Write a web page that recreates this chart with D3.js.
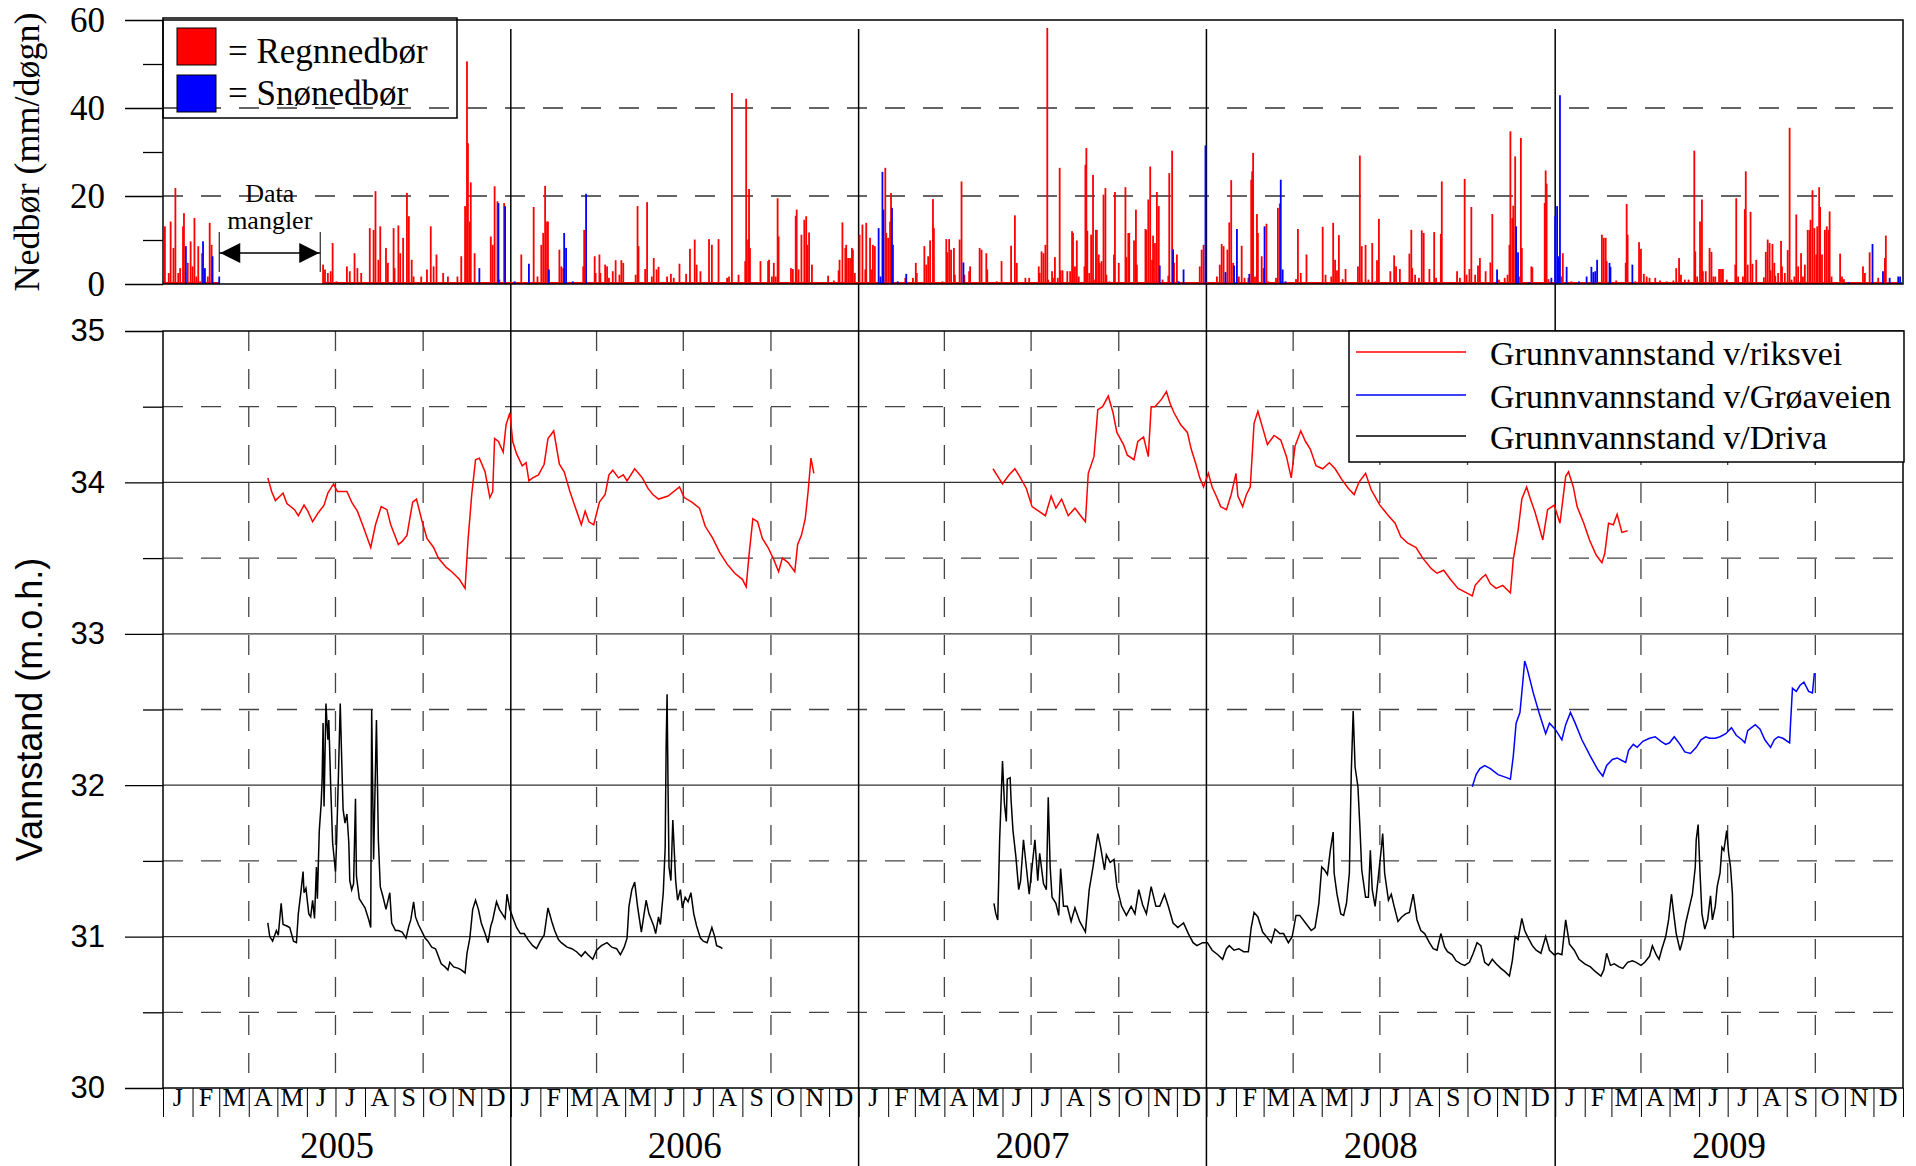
<!DOCTYPE html>
<html>
<head>
<meta charset="utf-8">
<script src="https://cdn.jsdelivr.net/npm/d3@7"></script>
<style>
  body { margin: 0; background: #fff; }
  svg { display: block; }
</style>
</head>
<body>
<script>
// Daily precipitation (day number counted from 1 Jan 2005, mm/døgn)
const rain = [[2,13.1],[6,2.5],[8,14.2],[11,8.2],[13,21.8],[16,2.5],[18,3.6],[21,13.1],[22,16.1],[26,4.8],[29,9.7],[31,4.0],[33,15.0],[35,1.7],[37,8.6],[39,0.6],[41,7.0],[47,1.7],[49,13.9],[51,8.9],
[168,4.4],[170,3.3],[173,2.5],[176,2.9],[178,9.3],[182,0.6],[193,4.0],[196,2.9],[201,7.0],[204,3.6],[208,2.5],[217,12.7],[221,12.3],[223,21.1],[226,5.5],[228,13.1],[234,8.2],[236,4.8],[242,12.7],[243,3.6],[247,13.3],[249,7.0],[252,10.5],[256,20.7],[258,15.4],[261,5.5],[263,1.7],[271,1.7],[277,3.3],[281,13.1],[284,4.0],[287,6.7],[294,2.5],[299,1.7],[309,1.7],[313,6.3],[317,17.7],[319,50.6],[320,32.0],[322,14.2],[323,23.1],[327,7.0],[344,10.8],[346,8.9],[348,22.2],[351,18.8],[353,1.0],[358,18.4],
[376,6.7],[389,17.5],[393,1.7],[397,8.9],[399,11.6],[401,22.3],[403,14.2],[404,14.2],[416,7.8],[418,4.0],[420,3.6],[441,4.0],[442,12.3],[453,6.3],[454,2.5],[458,6.7],[459,2.5],[464,4.4],[466,4.0],[468,1.4],[472,2.9],[475,5.4],[479,2.1],[481,5.4],[483,4.8],[496,2.1],[498,17.7],[499,8.6],[506,3.4],[508,18.6],[513,1.7],[515,5.9],[518,3.3],[520,3.9],[529,1.7],[533,2.3],[536,1.4],[542,4.6],[549,2.3],[553,8.0],[558,10.1],[560,4.4],[564,2.9],[573,10.2],[576,8.9],[583,10.2],[592,1.4],[594,1.7],[597,43.4],[604,2.1],[611,5.2],[612,42.1],[614,10.1],[615,21.6],[616,8.2],[627,5.2],[635,5.2],[636,5.5],[639,1.7],[641,4.8],[643,1.7],[645,19.5],[646,10.8],[659,3.6],[661,3.4],[664,15.5],[665,16.9],[667,3.3],[670,11.2],[673,14.6],[675,15.4],[676,8.9],[678,11.7],[681,4.4],[698,1.9],[704,0.8],[709,3.1],[710,5.5],[713,14.0],[716,8.2],[717,8.9],[719,5.9],[721,5.9],[723,8.2],[724,7.8],[726,2.5],
[731,11.2],[734,13.5],[737,3.3],[738,13.9],[742,10.5],[744,3.3],[745,8.9],[747,8.6],[758,26.4],[759,11.6],[761,10.5],[763,14.2],[764,20.7],[779,1.4],[787,1.4],[790,4.8],[791,2.5],[799,8.6],[801,4.4],[803,6.3],[805,9.9],[808,19.3],[809,12.7],[818,0.6],[822,10.2],[823,7.2],[825,10.2],[827,7.8],[830,8.2],[831,2.1],[836,10.1],[838,23.3],[841,2.1],[846,2.9],[847,4.0],[857,8.2],[859,7.8],[864,7.0],[865,3.3],[875,0.6],[880,5.2],[890,8.7],[894,15.6],[896,4.8],[905,1.4],[909,1.4],[919,4.0],[920,2.5],[922,7.4],[924,7.0],[926,8.9],[928,58.2],[929,1.0],[933,2.9],[934,1.4],[936,6.1],[939,1.4],[941,26.4],[942,3.1],[944,3.1],[949,2.9],[952,2.9],[954,12.0],[955,11.6],[957,4.0],[959,9.9],[961,1.7],[967,4.0],[968,27.1],[969,30.9],[970,12.1],[972,2.5],[974,11.2],[976,24.8],[977,1.0],[979,12.3],[980,12.3],[982,6.7],[983,4.8],[985,5.2],[987,20.3],[989,21.8],[990,2.1],[993,0.6],[998,6.7],[999,20.9],[1003,4.8],[1010,22.0],[1011,6.1],[1013,11.6],[1014,11.6],[1019,9.9],[1021,16.9],[1022,4.4],[1031,12.5],[1032,12.3],[1034,19.2],[1036,26.7],[1038,5.5],[1039,11.0],[1041,9.3],[1043,20.9],[1045,17.7],[1049,1.0],[1055,1.9],[1056,25.2],[1059,30.3],[1061,4.8],[1064,6.7],[1088,4.0],[1090,7.8],[1092,8.9],
[1106,1.7],[1109,4.4],[1111,9.1],[1113,8.6],[1117,7.8],[1119,14.0],[1121,23.6],[1123,4.8],[1129,1.7],[1132,8.7],[1135,1.4],[1139,1.4],[1142,23.7],[1143,25.6],[1144,29.8],[1146,1.7],[1148,15.9],[1149,11.6],[1153,6.3],[1155,3.6],[1158,13.7],[1160,0.6],[1168,1.4],[1170,17.3],[1172,18.3],[1189,1.1],[1191,12.5],[1194,2.5],[1200,6.7],[1217,13.0],[1220,2.1],[1226,1.7],[1228,13.9],[1230,5.5],[1232,3.1],[1234,11.1],[1238,1.1],[1241,3.4],[1254,4.0],[1256,29.2],[1258,8.6],[1262,8.9],[1265,1.0],[1269,9.3],[1272,0.6],[1274,5.4],[1276,14.8],[1288,2.9],[1292,6.5],[1294,4.0],[1298,3.4],[1308,6.9],[1310,12.3],[1311,3.6],[1314,2.1],[1318,1.4],[1321,12.2],[1323,11.6],[1329,3.4],[1334,11.8],[1336,1.4],[1341,11.4],[1342,23.3],[1358,2.9],[1361,1.4],[1366,23.9],[1368,2.1],[1371,3.4],[1373,17.5],[1377,2.1],[1380,4.2],[1382,5.9],[1388,2.9],[1393,4.9],[1395,15.9],[1402,1.0],[1408,1.4],[1411,2.1],[1413,8.9],[1414,34.7],[1416,15.0],[1417,17.8],[1419,29.0],[1423,1.7],[1425,33.2],[1426,8.2],[1436,4.0],[1437,3.8],[1450,18.4],[1451,25.8],[1452,22.8],[1454,1.1],
[1468,1.7],[1469,7.0],[1478,0.6],[1510,11.2],[1512,10.5],[1514,10.5],[1515,5.2],[1525,0.8],[1529,0.4],[1535,4.8],[1536,18.2],[1537,11.2],[1545,0.6],[1549,9.5],[1551,8.0],[1554,2.3],[1557,1.7],[1560,1.4],[1566,1.4],[1571,0.8],[1578,0.6],[1585,0.8],[1588,3.6],[1591,5.9],[1593,2.1],[1597,1.0],[1601,1.0],[1607,30.3],[1608,7.4],[1610,1.7],[1613,14.2],[1615,19.2],[1616,2.9],[1619,2.9],[1623,8.2],[1625,7.3],[1627,1.7],[1629,1.7],[1633,3.4],[1635,3.4],[1637,3.4],[1641,1.0],[1650,4.4],[1651,19.5],[1653,1.7],[1658,1.7],[1660,17.0],[1661,25.6],[1663,4.4],[1666,16.4],[1668,4.6],[1672,5.5],[1680,1.5],[1682,7.3],[1684,10.1],[1686,9.3],[1687,3.1],[1689,9.1],[1691,4.8],[1692,1.9],[1695,2.5],[1698,9.8],[1699,4.0],[1702,2.5],[1705,7.7],[1707,35.5],[1709,1.0],[1712,1.7],[1714,15.8],[1716,4.0],[1719,7.0],[1721,1.7],[1723,4.4],[1726,12.3],[1728,12.3],[1729,14.6],[1731,21.3],[1733,12.7],[1735,6.7],[1736,13.1],[1738,22.0],[1739,17.5],[1741,6.7],[1744,12.3],[1746,13.1],[1748,12.3],[1749,16.5],[1751,1.7],[1760,6.9],[1762,1.7],[1764,1.1],[1781,0.4],[1784,4.0],[1786,2.5],[1791,7.2],[1800,1.4],[1807,5.9],[1808,11.0]];

const snow = [[24,8.6],[42,9.7],[44,3.6],[52,6.3],[59,1.7],[332,3.6],[352,18.4],[359,17.7],[369,0.6],[384,4.6],[405,3.3],[421,11.6],[423,8.2],[430,0.6],[444,20.5],[751,12.7],[753,1.7],[755,25.5],[756,16.9],[765,17.3],[766,8.9],[771,0.6],[780,2.3],[840,4.9],[1046,4.2],[1060,7.9],[1066,0.6],[1071,3.3],[1094,31.5],[1115,2.7],[1124,4.2],[1127,12.5],[1140,2.3],[1156,13.1],[1173,23.7],[1175,3.3],[1178,0.6],[1400,3.3],[1420,13.1],[1422,7.2],[1434,0.4],[1457,1.4],[1461,15.4],[1463,17.7],[1464,6.3],[1465,5.9],[1466,42.9],[1473,3.9],[1486,0.6],[1494,1.7],[1499,3.9],[1501,2.7],[1503,2.9],[1505,5.5],[1518,4.8],[1519,3.9],[1542,4.4],[1769,0.4],[1794,9.1],[1805,2.9],[1812,1.4],[1821,1.7],[1823,1.7]];

// Periods with a precipitation record (first day, last day)
const rainRecord = [[0,59],[168,1825]];

// Groundwater levels (day number, m.o.h.)
const riksvei = [[110,34.03],[114,33.94],[118,33.88],[126,33.93],[130,33.86],[138,33.82],[142,33.78],[148,33.85],[152,33.81],[157,33.74],[163,33.80],[169,33.85],[173,33.93],[179,33.99],[183,33.94],[193,33.94],[198,33.87],[204,33.81],[210,33.71],[218,33.57],[223,33.72],[229,33.84],[235,33.82],[239,33.72],[247,33.59],[251,33.61],[256,33.65],[262,33.87],[266,33.89],[272,33.74],[277,33.63],[284,33.57],[289,33.50],[297,33.44],[303,33.41],[311,33.36],[317,33.30],[320,33.61],[324,33.92],[328,34.15],[332,34.16],[338,34.07],[343,33.90],[346,33.94],[348,34.29],[352,34.27],[357,34.20],[360,34.38],[364,34.46],[367,34.27],[371,34.19],[377,34.11],[381,34.13],[384,34.01],[388,34.03],[394,34.05],[400,34.12],[404,34.29],[410,34.34],[416,34.12],[421,34.07],[427,33.94],[433,33.83],[439,33.72],[443,33.81],[447,33.74],[452,33.72],[458,33.87],[464,33.92],[468,34.05],[472,34.08],[478,34.03],[483,34.05],[487,34.01],[495,34.09],[503,34.03],[509,33.96],[514,33.92],[520,33.89],[530,33.91],[542,33.97],[547,33.90],[555,33.87],[563,33.83],[569,33.71],[577,33.63],[584,33.54],[592,33.46],[600,33.40],[608,33.36],[612,33.31],[615,33.52],[619,33.76],[624,33.74],[629,33.63],[635,33.57],[641,33.49],[646,33.41],[650,33.50],[656,33.47],[663,33.41],[666,33.59],[670,33.65],[674,33.76],[677,33.94],[680,34.16],[683,34.06],
null,
[871,34.09],[877,34.03],[881,33.99],[888,34.05],[894,34.09],[899,34.04],[906,33.96],[912,33.84],[919,33.81],[926,33.78],[932,33.91],[937,33.83],[943,33.89],[950,33.78],[957,33.83],[963,33.78],[968,33.74],[971,34.06],[977,34.17],[981,34.48],[986,34.50],[992,34.57],[997,34.46],[1001,34.33],[1008,34.25],[1012,34.18],[1019,34.15],[1023,34.27],[1029,34.30],[1034,34.17],[1037,34.50],[1041,34.50],[1048,34.55],[1053,34.60],[1057,34.52],[1061,34.46],[1068,34.38],[1075,34.33],[1079,34.22],[1084,34.12],[1088,34.03],[1092,33.97],[1097,34.06],[1101,33.97],[1106,33.90],[1110,33.84],[1116,33.82],[1121,33.92],[1126,34.06],[1128,33.91],[1133,33.84],[1137,33.92],[1141,33.97],[1145,34.39],[1149,34.47],[1154,34.36],[1159,34.25],[1166,34.31],[1173,34.28],[1179,34.17],[1184,34.03],[1188,34.24],[1194,34.34],[1199,34.27],[1204,34.22],[1210,34.11],[1217,34.09],[1224,34.13],[1230,34.09],[1237,34.02],[1244,33.96],[1250,33.92],[1255,34.00],[1262,34.06],[1268,33.95],[1277,33.85],[1286,33.78],[1293,33.73],[1299,33.64],[1306,33.60],[1315,33.57],[1322,33.50],[1331,33.43],[1337,33.40],[1344,33.42],[1351,33.36],[1359,33.30],[1368,33.27],[1374,33.25],[1377,33.32],[1384,33.37],[1388,33.39],[1393,33.33],[1399,33.30],[1406,33.32],[1414,33.27],[1417,33.49],[1422,33.68],[1426,33.89],[1431,33.97],[1435,33.89],[1440,33.80],[1444,33.71],[1448,33.62],[1453,33.82],[1460,33.85],[1466,33.73],[1472,34.04],[1475,34.07],[1480,33.97],[1484,33.84],[1491,33.73],[1497,33.62],[1504,33.52],[1510,33.47],[1513,33.53],[1517,33.73],[1522,33.72],[1526,33.79],[1531,33.67],[1537,33.68]];

const groaveien = [[1374,31.99],[1378,32.07],[1382,32.11],[1387,32.13],[1393,32.11],[1401,32.07],[1410,32.05],[1414,32.04],[1417,32.19],[1420,32.41],[1424,32.48],[1427,32.68],[1429,32.82],[1432,32.76],[1438,32.61],[1444,32.48],[1451,32.34],[1455,32.41],[1461,32.37],[1468,32.30],[1472,32.40],[1477,32.48],[1482,32.41],[1489,32.30],[1498,32.19],[1506,32.10],[1511,32.06],[1515,32.13],[1521,32.17],[1526,32.18],[1532,32.16],[1535,32.15],[1538,32.23],[1543,32.27],[1547,32.25],[1553,32.29],[1560,32.31],[1566,32.32],[1572,32.29],[1577,32.27],[1581,32.28],[1586,32.32],[1592,32.27],[1597,32.22],[1603,32.21],[1609,32.25],[1614,32.30],[1619,32.32],[1623,32.31],[1629,32.31],[1634,32.32],[1640,32.34],[1646,32.38],[1651,32.33],[1657,32.30],[1660,32.28],[1663,32.36],[1667,32.38],[1671,32.40],[1676,32.37],[1681,32.30],[1687,32.25],[1691,32.30],[1695,32.32],[1700,32.31],[1707,32.28],[1708,32.41],[1710,32.64],[1714,32.62],[1718,32.66],[1722,32.68],[1727,32.62],[1731,32.61],[1733,32.74]];

const driva = [[110,31.09],[112,31.00],[115,30.97],[119,31.04],[121,31.01],[124,31.22],[126,31.08],[130,31.07],[133,31.06],[137,30.97],[140,30.96],[142,31.15],[145,31.31],[147,31.43],[148,31.29],[150,31.32],[153,31.15],[155,31.13],[157,31.24],[159,31.12],[161,31.46],[162,31.25],[164,31.70],[166,31.88],[167,32.04],[168,32.41],[169,31.86],[171,32.54],[173,32.30],[174,32.43],[176,31.99],[178,31.62],[181,31.43],[182,31.59],[184,32.04],[186,32.54],[188,32.06],[189,31.84],[191,31.75],[193,31.81],[195,31.62],[196,31.37],[198,31.31],[200,31.35],[202,31.91],[203,31.40],[206,31.25],[209,31.22],[212,31.19],[216,31.11],[218,31.06],[219,32.50],[221,31.51],[224,32.43],[226,31.64],[228,31.33],[231,31.26],[234,31.18],[238,31.29],[240,31.09],[244,31.04],[247,31.04],[251,31.03],[255,30.99],[258,31.07],[260,31.11],[263,31.23],[265,31.13],[268,31.08],[272,31.03],[275,30.99],[278,30.97],[282,30.93],[286,30.92],[289,30.87],[292,30.82],[296,30.80],[299,30.78],[301,30.83],[305,30.80],[310,30.79],[313,30.78],[317,30.76],[319,30.89],[322,30.99],[325,31.18],[328,31.24],[331,31.18],[334,31.09],[338,31.02],[341,30.96],[344,31.07],[346,31.11],[350,31.23],[353,31.18],[357,31.14],[359,31.12],[361,31.28],[364,31.18],[368,31.11],[371,31.06],[375,31.02],[379,31.02],[383,30.98],[388,30.94],[392,30.92],[396,30.97],[400,31.01],[404,31.19],[408,31.10],[411,31.04],[415,30.98],[418,30.96],[424,30.93],[429,30.92],[434,30.90],[439,30.87],[443,30.90],[446,30.88],[451,30.85],[455,30.91],[460,30.94],[466,30.96],[471,30.93],[476,30.92],[480,30.88],[484,30.93],[487,30.99],[489,31.20],[492,31.31],[495,31.36],[498,31.20],[502,31.03],[507,31.24],[510,31.15],[515,31.07],[517,31.02],[520,31.13],[522,31.08],[525,31.29],[527,31.59],[528,32.26],[529,32.60],[530,31.99],[531,31.46],[533,31.37],[535,31.77],[536,31.64],[538,31.37],[540,31.24],[543,31.31],[545,31.19],[548,31.26],[551,31.23],[554,31.29],[557,31.15],[560,31.07],[564,30.99],[567,30.97],[571,30.96],[576,31.06],[579,31.00],[581,30.94],[585,30.93],[587,30.92],
null,
[872,31.22],[874,31.15],[876,31.11],[878,31.64],[881,32.16],[883,31.88],[885,31.76],[886,32.04],[889,32.05],[890,31.90],[892,31.70],[895,31.53],[898,31.31],[900,31.37],[903,31.64],[906,31.46],[909,31.28],[912,31.46],[915,31.64],[918,31.37],[920,31.55],[924,31.35],[927,31.31],[929,31.92],[931,31.46],[933,31.26],[937,31.22],[940,31.14],[942,31.45],[945,31.20],[949,31.20],[953,31.10],[957,31.19],[962,31.10],[968,31.03],[972,31.31],[976,31.46],[981,31.68],[984,31.59],[988,31.44],[990,31.54],[994,31.49],[998,31.51],[1001,31.33],[1006,31.20],[1011,31.14],[1016,31.20],[1020,31.15],[1024,31.31],[1028,31.21],[1032,31.15],[1037,31.33],[1042,31.20],[1046,31.20],[1051,31.28],[1055,31.20],[1060,31.09],[1065,31.06],[1071,31.09],[1076,31.02],[1081,30.96],[1085,30.94],[1091,30.96],[1096,30.96],[1101,30.91],[1107,30.88],[1112,30.85],[1116,30.92],[1119,30.94],[1124,30.91],[1129,30.92],[1134,30.90],[1139,30.90],[1142,31.06],[1145,31.16],[1149,31.13],[1154,31.03],[1158,31.00],[1163,30.96],[1167,31.05],[1172,31.02],[1176,31.02],[1181,30.96],[1185,31.00],[1189,31.14],[1193,31.14],[1199,31.09],[1205,31.04],[1209,31.06],[1213,31.22],[1216,31.46],[1219,31.44],[1222,31.41],[1225,31.57],[1228,31.69],[1229,31.42],[1232,31.28],[1236,31.15],[1239,31.14],[1242,31.22],[1245,31.42],[1247,32.08],[1249,32.49],[1251,32.12],[1254,31.99],[1256,31.73],[1258,31.44],[1262,31.26],[1265,31.26],[1267,31.57],[1269,31.31],[1272,31.20],[1275,31.37],[1278,31.55],[1280,31.68],[1282,31.42],[1286,31.24],[1289,31.28],[1292,31.20],[1296,31.10],[1300,31.13],[1304,31.15],[1308,31.16],[1312,31.28],[1316,31.11],[1320,31.04],[1324,31.02],[1329,30.96],[1333,30.92],[1337,30.91],[1341,31.02],[1345,30.93],[1348,30.90],[1353,30.88],[1357,30.84],[1362,30.82],[1366,30.81],[1371,30.83],[1375,30.89],[1379,30.96],[1383,30.94],[1387,30.83],[1391,30.81],[1395,30.85],[1399,30.82],[1404,30.79],[1408,30.77],[1413,30.74],[1416,30.84],[1419,31.00],[1422,30.98],[1426,31.12],[1429,31.04],[1432,31.00],[1437,30.94],[1441,30.91],[1446,30.89],[1451,31.00],[1455,30.91],[1460,30.88],[1464,30.89],[1468,30.88],[1472,31.11],[1476,30.95],[1481,30.91],[1486,30.85],[1492,30.82],[1498,30.80],[1503,30.77],[1509,30.74],[1512,30.78],[1515,30.89],[1519,30.81],[1523,30.82],[1528,30.80],[1532,30.79],[1537,30.83],[1542,30.84],[1546,30.83],[1551,30.81],[1555,30.83],[1560,30.87],[1563,30.94],[1567,30.88],[1570,30.85],[1573,30.92],[1577,31.00],[1580,31.11],[1583,31.28],[1585,31.17],[1588,31.02],[1592,30.91],[1595,30.98],[1598,31.09],[1602,31.20],[1605,31.28],[1608,31.46],[1609,31.64],[1611,31.74],[1613,31.42],[1615,31.15],[1618,31.05],[1621,31.11],[1624,31.27],[1626,31.11],[1629,31.20],[1631,31.33],[1634,31.42],[1636,31.59],[1638,31.57],[1641,31.70],[1643,31.55],[1645,31.46],[1647,31.28],[1648,30.99]];

// Axis labels and ticks
const monthLetters = ["J","F","M","A","M","J","J","A","S","O","N","D"];
const years = [2005, 2006, 2007, 2008, 2009];
const rainTicks = [0, 20, 40, 60];
const rainMinorTicks = [10, 30, 50];
const levelTicks = [30, 31, 32, 33, 34, 35];
const levelHalfTicks = [30.5, 31.5, 32.5, 33.5, 34.5];
const missingSpan = [59, 165]; // "Data mangler" arrow, day numbers

const W = 1916, H = 1166;
const L = 163, R = 1903;
const serif = "'Liberation Serif', 'Times New Roman', serif";
const sans = "'Liberation Sans', Arial, sans-serif";
const dash = "20,18";

const t0 = Date.UTC(2005, 0, 1);
const dayDate = d => new Date(t0 + d * 86400000);

const x = d3.scaleUtc().domain([new Date(t0), new Date(Date.UTC(2010, 0, 1))]).range([L, R]);
const xd = d => x(dayDate(d));
const yP = d3.scaleLinear().domain([0, 60]).range([284, 20]);
const yW = d3.scaleLinear().domain([30, 35]).range([1088, 331]);

const svg = d3.select("body").append("svg").attr("width", W).attr("height", H);

// ---------- grid: precipitation panel ----------
const gTop = svg.append("g");
gTop.selectAll("line.hd").data([20, 40]).join("line")
  .attr("x1", L).attr("x2", R).attr("y1", d => yP(d)).attr("y2", d => yP(d))
  .attr("stroke", "#333").attr("stroke-width", 1.3).attr("stroke-dasharray", dash);

// ---------- grid: water level panel ----------
const gBot = svg.append("g");
gBot.selectAll("line.hs").data([31, 32, 33, 34]).join("line")
  .attr("x1", L).attr("x2", R).attr("y1", d => yW(d)).attr("y2", d => yW(d))
  .attr("stroke", "#333").attr("stroke-width", 1.2);
gBot.selectAll("line.hh").data(levelHalfTicks).join("line")
  .attr("x1", L).attr("x2", R).attr("y1", d => yW(d)).attr("y2", d => yW(d))
  .attr("stroke", "#444").attr("stroke-width", 1.3).attr("stroke-dasharray", dash);

const quarters = d3.utcMonth.range(new Date(t0), new Date(Date.UTC(2010, 0, 1)), 3)
  .filter(d => d.getUTCMonth() !== 0);
gBot.selectAll("line.vq").data(quarters).join("line")
  .attr("x1", d => x(d)).attr("x2", d => x(d)).attr("y1", 331).attr("y2", 1088)
  .attr("stroke", "#444").attr("stroke-width", 1.3).attr("stroke-dasharray", dash);

// ---------- year dividers ----------
const yearStarts = years.slice(1).map(y => new Date(Date.UTC(y, 0, 1)));
svg.selectAll("line.yr").data(yearStarts).join("line")
  .attr("x1", d => x(d)).attr("x2", d => x(d)).attr("y1", 29).attr("y2", H)
  .attr("stroke", "#000").attr("stroke-width", 1.5);

// ---------- precipitation bars ----------
svg.append("g").selectAll("line").data(rainRecord).join("line")
  .attr("x1", d => xd(d[0])).attr("x2", d => xd(d[1]))
  .attr("y1", yP(0) - 1).attr("y2", yP(0) - 1)
  .attr("stroke", "#ff0000").attr("stroke-width", 2);

svg.append("g").selectAll("rect").data(rain).join("rect")
  .attr("x", d => xd(d[0]) - 0.9).attr("width", 1.8)
  .attr("y", d => yP(d[1])).attr("height", d => yP(0) - yP(d[1]))
  .attr("fill", "#ff0000");
svg.append("g").selectAll("rect").data(snow).join("rect")
  .attr("x", d => xd(d[0]) - 0.9).attr("width", 1.8)
  .attr("y", d => yP(d[1])).attr("height", d => yP(0) - yP(d[1]))
  .attr("fill", "#0000ff");

// ---------- water level lines ----------
const line = d3.line().defined(d => d !== null).x(d => xd(d[0])).y(d => yW(d[1]));
svg.append("path").datum(riksvei).attr("d", line)
  .attr("fill", "none").attr("stroke", "#ff0000").attr("stroke-width", 1.5);
svg.append("path").datum(groaveien).attr("d", line)
  .attr("fill", "none").attr("stroke", "#0000ff").attr("stroke-width", 1.5);
svg.append("path").datum(driva).attr("d", line)
  .attr("fill", "none").attr("stroke", "#000").attr("stroke-width", 1.5);

// ---------- frames ----------
svg.append("rect").attr("x", L).attr("y", yP(60)).attr("width", R - L).attr("height", yP(0) - yP(60))
  .attr("fill", "none").attr("stroke", "#000").attr("stroke-width", 1.5);
svg.append("rect").attr("x", L).attr("y", yW(35)).attr("width", R - L).attr("height", yW(30) - yW(35))
  .attr("fill", "none").attr("stroke", "#000").attr("stroke-width", 1.5);

// ---------- y axes ----------
function styleAxis(g, font, size) {
  g.select(".domain").remove();
  g.selectAll(".tick line").attr("stroke", "#000").attr("stroke-width", 1.3);
  g.selectAll(".tick text").attr("font-family", font).attr("font-size", size).attr("fill", "#000");
}
svg.append("g").attr("transform", `translate(${L},0)`)
  .call(d3.axisLeft(yP).tickValues(rainTicks).tickSize(38).tickPadding(20))
  .call(g => styleAxis(g, serif, 35));
svg.append("g").attr("transform", `translate(${L},0)`)
  .call(d3.axisLeft(yP).tickValues(rainMinorTicks).tickSize(20).tickFormat(""))
  .call(g => styleAxis(g, serif, 35));
svg.append("g").attr("transform", `translate(${L},0)`)
  .call(d3.axisLeft(yW).tickValues(levelTicks).tickSize(38).tickPadding(20).tickFormat(d3.format("d")))
  .call(g => styleAxis(g, sans, 31));
svg.append("g").attr("transform", `translate(${L},0)`)
  .call(d3.axisLeft(yW).tickValues(levelHalfTicks).tickSize(20).tickFormat(""))
  .call(g => styleAxis(g, sans, 31));

// ---------- x axis: months and years ----------
const months = d3.utcMonth.range(new Date(t0), new Date(Date.UTC(2010, 0, 1)));
svg.append("g").attr("transform", `translate(0,${yW(30)})`)
  .call(d3.axisBottom(x).tickValues(months.concat([new Date(Date.UTC(2010, 0, 1))])).tickSize(29).tickFormat(""))
  .call(g => { g.select(".domain").remove(); g.selectAll(".tick line").attr("stroke", "#000").attr("stroke-width", 1); });

svg.append("g").selectAll("text").data(months).join("text")
  .attr("x", d => (x(d) + x(d3.utcMonth.offset(d, 1))) / 2)
  .attr("y", 1106)
  .attr("text-anchor", "middle")
  .attr("font-family", serif).attr("font-size", 26)
  .text(d => monthLetters[d.getUTCMonth()]);

svg.append("g").selectAll("text").data(years).join("text")
  .attr("x", y => (x(new Date(Date.UTC(y, 0, 1))) + x(new Date(Date.UTC(y + 1, 0, 1)))) / 2)
  .attr("y", 1158)
  .attr("text-anchor", "middle")
  .attr("font-family", serif).attr("font-size", 37)
  .text(y => y);

// ---------- axis titles ----------
svg.append("text")
  .attr("transform", `translate(39,${(yP(0) + yP(60)) / 2}) rotate(-90)`)
  .attr("text-anchor", "middle").attr("font-family", serif).attr("font-size", 36)
  .text("Nedbør (mm/døgn)");
svg.append("text")
  .attr("transform", `translate(42,${(yW(30) + yW(35)) / 2}) rotate(-90)`)
  .attr("text-anchor", "middle").attr("font-family", sans).attr("font-size", 36)
  .text("Vannstand (m.o.h.)");

// ---------- precipitation legend ----------
const lg1 = svg.append("g");
lg1.append("rect").attr("x", 163).attr("y", 18).attr("width", 294).attr("height", 100)
  .attr("fill", "none").attr("stroke", "#000").attr("stroke-width", 1.5);
const lgItems = [
  { c: "#ff0000", t: "= Regnnedbør", y: 28, base: 63 },
  { c: "#0000ff", t: "= Snønedbør", y: 75, base: 105 }
];
lg1.selectAll("rect.sw").data(lgItems).join("rect")
  .attr("x", 177).attr("y", d => d.y).attr("width", 39).attr("height", 37)
  .attr("fill", d => d.c).attr("stroke", "#000").attr("stroke-width", 1);
lg1.selectAll("text").data(lgItems).join("text")
  .attr("x", 228).attr("y", d => d.base)
  .attr("font-family", serif).attr("font-size", 35)
  .text(d => d.t);

// ---------- missing-data annotation ----------
const ann = svg.append("g");
const ax1 = xd(missingSpan[0]), ax2 = xd(missingSpan[1]);
ann.append("text").attr("x", (ax1 + ax2) / 2).attr("y", 202).attr("text-anchor", "middle")
  .attr("font-family", serif).attr("font-size", 26).text("Data");
ann.append("text").attr("x", (ax1 + ax2) / 2).attr("y", 229).attr("text-anchor", "middle")
  .attr("font-family", serif).attr("font-size", 26).text("mangler");
ann.append("line").attr("x1", ax1).attr("x2", ax2).attr("y1", 253).attr("y2", 253)
  .attr("stroke", "#000").attr("stroke-width", 1.5);
ann.selectAll("line.bar").data([ax1, ax2]).join("line")
  .attr("x1", d => d).attr("x2", d => d).attr("y1", 232).attr("y2", 272)
  .attr("stroke", "#000").attr("stroke-width", 1);
ann.append("path").attr("d", `M${ax1 + 1},253 L${ax1 + 21},243 L${ax1 + 21},263 Z`).attr("fill", "#000");
ann.append("path").attr("d", `M${ax2 - 1},253 L${ax2 - 21},243 L${ax2 - 21},263 Z`).attr("fill", "#000");

// ---------- water level legend ----------
const lg2 = svg.append("g");
lg2.append("rect").attr("x", 1349).attr("y", 331).attr("width", 555).attr("height", 131)
  .attr("fill", "#fff").attr("stroke", "#000").attr("stroke-width", 1.5);
const lg2Items = [
  { c: "#ff0000", t: "Grunnvannstand v/riksvei", y: 352 },
  { c: "#0000ff", t: "Grunnvannstand v/Grøaveien", y: 395 },
  { c: "#000000", t: "Grunnvannstand v/Driva", y: 436 }
];
lg2.selectAll("line").data(lg2Items).join("line")
  .attr("x1", 1356).attr("x2", 1466).attr("y1", d => d.y).attr("y2", d => d.y)
  .attr("stroke", d => d.c).attr("stroke-width", 1.3);
lg2.selectAll("text").data(lg2Items).join("text")
  .attr("x", 1490).attr("y", d => d.y + 13)
  .attr("font-family", serif).attr("font-size", 34)
  .text(d => d.t);
</script>
</body>
</html>
